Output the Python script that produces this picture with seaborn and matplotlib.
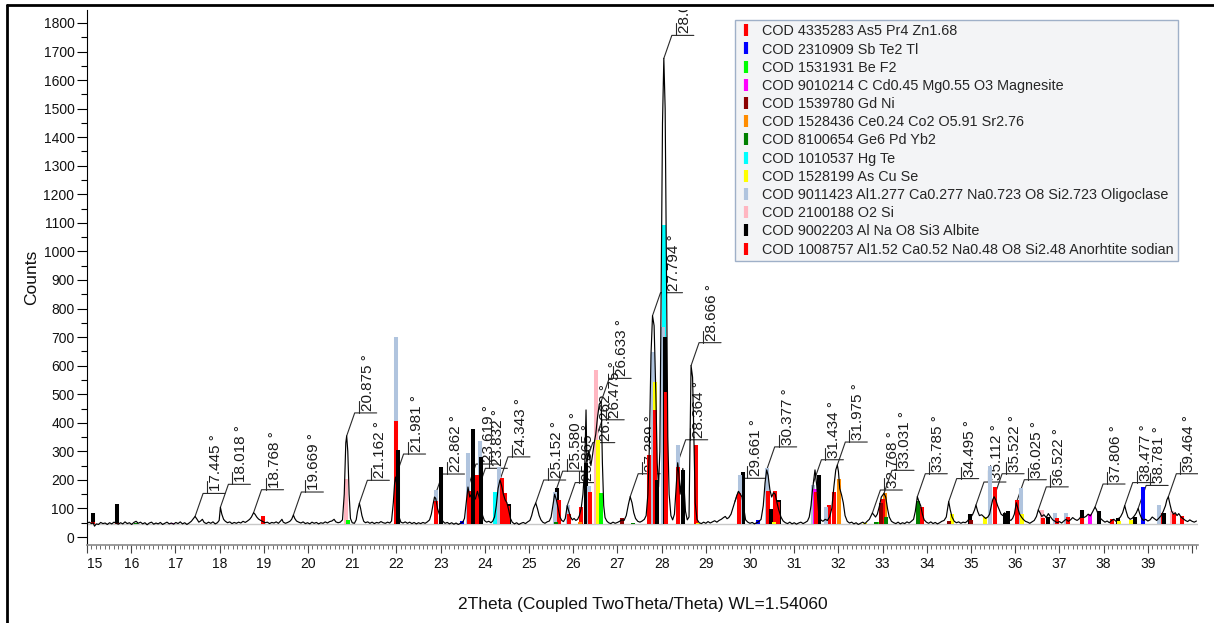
import numpy as np
import matplotlib
matplotlib.use("Agg")
import matplotlib.pyplot as plt
import seaborn as sns
from matplotlib.lines import Line2D
from matplotlib.ticker import MultipleLocator, FixedLocator

# ---- measured scan: 2theta (deg) and intensity (counts) ----
two_theta = [
    15.00, 15.05, 15.10, 15.14, 15.17, 15.21, 15.26, 15.31, 15.36, 15.41, 15.46, 15.51, 15.56, 15.61,
    15.66, 15.71, 15.76, 15.81, 15.86, 15.91, 15.96, 16.01, 16.06, 16.11, 16.16, 16.21, 16.26, 16.31,
    16.36, 16.41, 16.46, 16.51, 16.56, 16.61, 16.66, 16.71, 16.76, 16.81, 16.86, 16.91, 16.96, 17.01,
    17.06, 17.11, 17.16, 17.21, 17.26, 17.31, 17.36, 17.40, 17.445, 17.49, 17.53, 17.57, 17.61, 17.65,
    17.70, 17.75, 17.80, 17.85, 17.90, 17.95, 17.99, 18.018, 18.05, 18.09, 18.13, 18.18, 18.23, 18.28,
    18.33, 18.38, 18.43, 18.48, 18.53, 18.58, 18.63, 18.68, 18.72, 18.768, 18.80, 18.84, 18.88, 18.93,
    18.98, 19.03, 19.08, 19.13, 19.18, 19.23, 19.28, 19.33, 19.38, 19.41, 19.44, 19.49, 19.54, 19.59,
    19.63, 19.669, 19.70, 19.74, 19.79, 19.84, 19.89, 19.94, 19.99, 20.04, 20.09, 20.14, 20.19, 20.24,
    20.29, 20.34, 20.39, 20.44, 20.49, 20.54, 20.59, 20.63, 20.68, 20.73, 20.78, 20.82, 20.855, 20.875,
    20.90, 20.93, 20.96, 21.00, 21.05, 21.09, 21.12, 21.162, 21.19, 21.22, 21.26, 21.30, 21.35, 21.40,
    21.45, 21.50, 21.55, 21.60, 21.65, 21.70, 21.75, 21.80, 21.85, 21.89, 21.93, 21.96, 21.981, 22.00,
    22.03, 22.06, 22.10, 22.15, 22.20, 22.25, 22.30, 22.35, 22.40, 22.45, 22.50, 22.55, 22.60, 22.65,
    22.70, 22.75, 22.79, 22.83, 22.862, 22.89, 22.93, 22.97, 23.01, 23.05, 23.10, 23.15, 23.20, 23.25,
    23.30, 23.35, 23.40, 23.45, 23.50, 23.54, 23.58, 23.619, 23.66, 23.70, 23.74, 23.79, 23.832, 23.87,
    23.91, 23.95, 23.99, 24.04, 24.09, 24.14, 24.18, 24.22, 24.26, 24.30, 24.343, 24.38, 24.42, 24.46,
    24.50, 24.54, 24.58, 24.62, 24.67, 24.72, 24.77, 24.82, 24.87, 24.92, 24.97, 25.02, 25.06, 25.10,
    25.152, 25.19, 25.23, 25.27, 25.31, 25.36, 25.41, 25.46, 25.50, 25.54, 25.580, 25.62, 25.66, 25.70,
    25.74, 25.78, 25.82, 25.865, 25.90, 25.94, 25.98, 26.02, 26.06, 26.10, 26.14, 26.18, 26.22, 26.262,
    26.29, 26.31, 26.35, 26.40, 26.44, 26.475, 26.51, 26.55, 26.59, 26.633, 26.66, 26.69, 26.72, 26.76,
    26.80, 26.85, 26.90, 26.95, 27.00, 27.05, 27.10, 27.15, 27.20, 27.25, 27.289, 27.33, 27.37, 27.41,
    27.46, 27.51, 27.56, 27.61, 27.65, 27.69, 27.72, 27.76, 27.794, 27.83, 27.87, 27.90, 27.93, 27.96,
    27.99, 28.02, 28.05, 28.08, 28.11, 28.14, 28.17, 28.21, 28.25, 28.29, 28.33, 28.364, 28.39, 28.42,
    28.45, 28.48, 28.51, 28.54, 28.58, 28.62, 28.64, 28.666, 28.70, 28.73, 28.76, 28.80, 28.85, 28.90,
    28.95, 29.00, 29.05, 29.10, 29.15, 29.20, 29.25, 29.30, 29.35, 29.40, 29.44, 29.48, 29.52, 29.57,
    29.61, 29.661, 29.70, 29.74, 29.78, 29.82, 29.86, 29.90, 29.95, 30.00, 30.05, 30.10, 30.15, 30.20,
    30.25, 30.30, 30.34, 30.377, 30.41, 30.45, 30.49, 30.53, 30.57, 30.61, 30.65, 30.70, 30.75, 30.80,
    30.85, 30.90, 30.95, 31.00, 31.05, 31.10, 31.15, 31.20, 31.25, 31.30, 31.34, 31.38, 31.41, 31.434,
    31.47, 31.51, 31.55, 31.60, 31.65, 31.70, 31.75, 31.80, 31.85, 31.90, 31.94, 31.975, 32.00, 32.03,
    32.07, 32.11, 32.15, 32.20, 32.25, 32.30, 32.35, 32.40, 32.45, 32.50, 32.55, 32.60, 32.65, 32.70,
    32.74, 32.768, 32.80, 32.84, 32.88, 32.93, 32.97, 33.031, 33.07, 33.11, 33.15, 33.20, 33.25, 33.30,
    33.35, 33.40, 33.45, 33.50, 33.55, 33.60, 33.65, 33.70, 33.74, 33.785, 33.82, 33.86, 33.90, 33.94,
    33.99, 34.04, 34.09, 34.14, 34.19, 34.24, 34.29, 34.34, 34.39, 34.44, 34.47, 34.495, 34.53, 34.57,
    34.62, 34.67, 34.72, 34.77, 34.82, 34.87, 34.92, 34.96, 35.00, 35.04, 35.08, 35.112, 35.15, 35.19,
    35.24, 35.28, 35.33, 35.38, 35.42, 35.46, 35.49, 35.522, 35.56, 35.60, 35.64, 35.68, 35.72, 35.76,
    35.80, 35.85, 35.90, 35.94, 35.98, 36.025, 36.06, 36.10, 36.14, 36.18, 36.23, 36.28, 36.33, 36.38,
    36.43, 36.48, 36.522, 36.56, 36.60, 36.65, 36.70, 36.75, 36.80, 36.85, 36.90, 36.95, 37.00, 37.05,
    37.10, 37.15, 37.20, 37.25, 37.30, 37.35, 37.40, 37.45, 37.50, 37.55, 37.60, 37.65, 37.70, 37.75,
    37.806, 37.84, 37.88, 37.93, 37.98, 38.03, 38.08, 38.13, 38.18, 38.23, 38.28, 38.33, 38.38, 38.43,
    38.477, 38.51, 38.55, 38.60, 38.65, 38.70, 38.74, 38.781, 38.82, 38.86, 38.90, 38.95, 39.00, 39.05,
    39.10, 39.15, 39.20, 39.25, 39.30, 39.35, 39.40, 39.43, 39.464, 39.50, 39.54, 39.58, 39.62, 39.66,
    39.70, 39.75, 39.80, 39.85, 39.90, 39.95, 40.00, 40.05, 40.10,
]
counts = [
    48, 52, 47, 50, 38, 46, 44, 51, 47, 49, 44, 50, 46, 52,
    48, 45, 50, 46, 53, 47, 50, 44, 51, 55, 48, 52, 46, 50,
    43, 49, 52, 45, 49, 46, 51, 44, 48, 52, 46, 49, 45, 51,
    47, 53, 46, 50, 44, 49, 55, 63, 72, 62, 52, 56, 62, 51,
    47, 52, 48, 53, 46, 50, 58, 104, 80, 62, 55, 50, 53, 47,
    51, 48, 52, 49, 55, 51, 56, 62, 70, 85, 80, 70, 63, 58,
    54, 50, 52, 47, 51, 49, 53, 48, 56, 62, 52, 48, 51, 55,
    62, 77, 65, 56, 52, 49, 53, 47, 50, 46, 52, 48, 51, 46,
    50, 48, 53, 49, 54, 56, 62, 53, 50, 52, 60, 150, 330, 354,
    300, 150, 65, 50, 48, 60, 90, 118, 100, 75, 55, 50, 53, 48,
    52, 47, 51, 49, 54, 50, 48, 52, 49, 56, 120, 190, 210, 190,
    130, 70, 52, 49, 53, 48, 52, 47, 51, 46, 50, 47, 51, 48,
    53, 60, 80, 115, 140, 135, 100, 80, 70, 55, 48, 51, 46, 50,
    45, 49, 44, 48, 52, 65, 120, 175, 140, 150, 125, 135, 160, 140,
    110, 75, 58, 52, 55, 50, 56, 70, 110, 170, 200, 180, 150, 130,
    120, 95, 65, 52, 46, 50, 44, 48, 51, 47, 53, 58, 75, 100,
    119, 100, 75, 60, 52, 48, 53, 56, 70, 110, 150, 130, 100, 70,
    58, 54, 65, 110, 90, 70, 60, 65, 58, 62, 75, 100, 150, 250,
    445, 260, 300, 250, 290, 330, 360, 420, 465, 475, 260, 110, 68, 56,
    50, 47, 52, 48, 51, 55, 60, 58, 75, 115, 141, 120, 85, 65,
    55, 52, 56, 62, 75, 150, 300, 640, 775, 740, 500, 260, 175, 300,
    900, 1450, 1676, 1500, 900, 350, 150, 75, 60, 80, 180, 260, 220, 150,
    200, 240, 170, 90, 60, 70, 300, 600, 560, 350, 120, 62, 50, 47,
    52, 48, 54, 49, 53, 57, 52, 58, 62, 68, 72, 64, 68, 80,
    100, 125, 145, 160, 150, 140, 100, 60, 52, 48, 51, 46, 50, 54,
    62, 110, 190, 235, 215, 165, 140, 155, 150, 120, 95, 70, 56, 50,
    47, 52, 46, 50, 45, 49, 52, 47, 51, 56, 70, 110, 160, 190,
    235, 180, 90, 60, 55, 62, 58, 70, 100, 180, 235, 252, 230, 170,
    148, 120, 75, 55, 49, 52, 46, 50, 44, 48, 52, 47, 55, 62,
    75, 84, 78, 70, 80, 110, 140, 153, 140, 100, 70, 55, 50, 47,
    52, 46, 50, 47, 53, 49, 55, 62, 90, 141, 125, 110, 80, 60,
    52, 48, 53, 47, 51, 46, 50, 55, 58, 70, 100, 124, 95, 70,
    55, 50, 53, 48, 52, 50, 56, 65, 70, 80, 95, 112, 90, 75,
    78, 72, 65, 70, 80, 110, 130, 141, 130, 110, 95, 80, 75, 85,
    70, 62, 58, 65, 80, 120, 100, 80, 70, 62, 55, 52, 48, 53,
    58, 72, 95, 85, 72, 78, 68, 82, 70, 60, 55, 50, 54, 49,
    56, 62, 55, 60, 68, 62, 58, 64, 75, 68, 72, 80, 74, 88,
    105, 95, 78, 65, 58, 52, 56, 50, 58, 62, 55, 64, 70, 85,
    110, 90, 70, 62, 66, 75, 85, 100, 80, 65, 58, 62, 56, 60,
    70, 64, 58, 66, 75, 90, 110, 130, 141, 115, 90, 80, 85, 75,
    82, 70, 64, 58, 54, 60, 55, 52, 56,
]

# ---- peaks marked on the scan (2theta, deg) ----
peak_positions = [
    17.445, 18.018, 18.768, 19.669, 20.875, 21.162, 21.981, 22.862, 23.619, 23.832,
    24.343, 25.152, 25.580, 25.865, 26.262, 26.475, 26.633, 27.289, 27.794, 28.050,
    28.364, 28.666, 29.661, 30.377, 31.434, 31.975, 32.768, 33.031, 33.785, 34.495,
    35.112, 35.522, 36.025, 36.522, 37.806, 38.477, 38.781, 39.464,
]

# ---- reference patterns (COD entries) ----
phase_names = [
    "COD 4335283 As5 Pr4 Zn1.68",
    "COD 2310909 Sb Te2 Tl",
    "COD 1531931 Be F2",
    "COD 9010214 C Cd0.45 Mg0.55 O3 Magnesite",
    "COD 1539780 Gd Ni",
    "COD 1528436 Ce0.24 Co2 O5.91 Sr2.76",
    "COD 8100654 Ge6 Pd Yb2",
    "COD 1010537 Hg Te",
    "COD 1528199 As Cu Se",
    "COD 9011423 Al1.277 Ca0.277 Na0.723 O8 Si2.723 Oligoclase",
    "COD 2100188 O2 Si",
    "COD 9002203 Al Na O8 Si3 Albite",
    "COD 1008757 Al1.52 Ca0.52 Na0.48 O8 Si2.48 Anorhtite sodian",
]
phase_colors = [
    "#ff0000", "#0000ff", "#00ff00", "#ff00ff", "#8b0000", "#ff8c00", "#008000",
    "#00ffff", "#ffff00", "#b0c4de", "#ffb6c1", "#000000", "#ff0000",
]

# stick positions (2theta) and stick tops (counts) for each reference
as5pr4zn_pos = [15.13, 15.69, 18.98, 30.56, 31.79, 33.00, 35.54, 36.05, 36.63, 36.95, 37.20, 37.52, 38.20, 39.34, 39.60, 39.78]
as5pr4zn_top = [54, 50, 72, 160, 112, 134, 176, 130, 68, 66, 70, 66, 62, 84, 82, 72]
sbte2tl_pos = [23.49, 30.18, 38.88]
sbte2tl_top = [55, 58, 176]
bef2_pos = [20.90, 26.63, 32.88]
bef2_top = [58, 153, 54]
magnesite_pos = [16.92, 31.47, 37.69]
magnesite_top = [50, 168, 80]
gdni_pos = [27.10, 32.97, 34.50, 35.00]
gdni_top = [65, 120, 56, 60]
cecoosr_pos = [26.15, 32.01, 33.05]
cecoosr_top = [54, 202, 155]
ge6pdyb2_pos = [16.10, 25.60, 27.35, 32.85, 33.08, 33.81]
ge6pdyb2_top = [50, 52, 50, 54, 71, 127]
hgte_pos = [24.23, 28.06]
hgte_top = [156, 1092]
ascuse_pos = [26.57, 27.85, 28.83, 30.55, 32.60, 34.56, 35.32, 36.15, 38.35, 38.62]
ascuse_top = [340, 544, 48, 52, 50, 80, 71, 80, 56, 58]
oligoclase_pos = [21.98, 22.90, 23.63, 23.89, 24.33, 25.59, 25.89, 26.35, 27.80, 28.04, 28.36, 29.78, 30.39,
                  31.43, 31.72, 35.44, 36.12, 36.90, 37.15, 39.25]
oligoclase_top = [699, 164, 293, 337, 246, 159, 112, 180, 649, 736, 322, 217, 242, 182, 106, 250, 170, 84, 84, 112]
quartz_pos = [20.86, 26.52, 36.60, 39.55]
quartz_top = [203, 585, 95, 90]
albite_pos = [15.13, 15.69, 22.04, 23.00, 23.74, 23.91, 24.54, 25.64, 26.30, 27.89, 28.07, 28.48, 29.85, 30.48,
              30.65, 31.56, 34.97, 35.77, 35.84, 36.75, 37.50, 37.90, 38.33, 38.72, 39.37]
albite_top = [85, 115, 305, 246, 377, 281, 115, 170, 258, 200, 701, 235, 229, 97, 130, 217, 80, 84, 90, 70, 95, 90,
              66, 70, 84]
anorthite_pos = [21.99, 22.89, 23.64, 23.83, 24.40, 24.45, 24.52, 25.68, 25.90, 26.18, 26.38, 27.72, 27.84, 28.10,
                 28.38, 28.77, 29.74, 30.41, 30.63, 31.49, 31.91, 33.88]
anorthite_top = [407, 126, 162, 217, 205, 154, 110, 130, 79, 106, 159, 287, 445, 509, 246, 322, 153, 160, 124, 159,
                 159, 106]

phase_sticks = [
    (as5pr4zn_pos, as5pr4zn_top), (sbte2tl_pos, sbte2tl_top), (bef2_pos, bef2_top),
    (magnesite_pos, magnesite_top), (gdni_pos, gdni_top), (cecoosr_pos, cecoosr_top),
    (ge6pdyb2_pos, ge6pdyb2_top), (hgte_pos, hgte_top), (ascuse_pos, ascuse_top),
    (oligoclase_pos, oligoclase_top), (quartz_pos, quartz_top), (albite_pos, albite_top),
    (anorthite_pos, anorthite_top),
]
stick_base = 45  # background level the sticks stand on

x_tick_values = list(range(15, 40))

# ---- styling ----
sns.set_theme(style="white")
plt.rcParams["font.family"] = ["Liberation Sans", "DejaVu Sans"]
plt.rcParams["axes.linewidth"] = 0.8

W, H = 1214, 623
fig = plt.figure(figsize=(W / 100, H / 100), dpi=100, facecolor="white")
ax = fig.add_axes([87 / W, 1 - 545 / H, (1198 - 87) / W, (545 - 10) / H])
ax.set_facecolor("white")
ax.set_xlim(15.0, 40.135)
ax.set_ylim(-28, 1845.5)

# background reference line
ax.axhline(stick_base, color="#c8c8c8", lw=1.0, zorder=1)

# stick patterns: tallest first so shorter sticks stay visible on top
all_sticks = []
for (pos, top), col in zip(phase_sticks, phase_colors):
    for p, t in zip(pos, top):
        all_sticks.append((t, p, col))
all_sticks.sort(key=lambda s: -s[0])
for t, p, col in all_sticks:
    ax.vlines(p, stick_base, t, colors=col, lw=2.9, zorder=3)

# measured scan
sns.lineplot(x=two_theta, y=counts, ax=ax, color="black", lw=0.85, estimator=None,
             sort=False, zorder=4, legend=False)

# peak labels with bracket leaders
trans = ax.transData
inv = trans.inverted()
for pos in peak_positions:
    h = float(np.interp(pos, two_theta, counts))
    x0, y0 = trans.transform((pos, h))
    ex, ey = x0 + 8, y0 + 23
    pts = inv.transform([(x0, y0), (ex, ey), (ex + 22, ey)])
    ax.plot(pts[:, 0], pts[:, 1], color="#2a2a2a", lw=0.8, zorder=2, clip_on=True)
    tk = inv.transform([(ex + 4, ey), (ex + 4, ey + 12)])
    ax.plot(tk[:, 0], tk[:, 1], color="#2a2a2a", lw=0.8, zorder=2, clip_on=True)
    tx, ty = inv.transform((ex + 13, ey + 2))
    ax.text(tx, ty, f"{pos:.3f} °", rotation=90, ha="center", va="bottom", fontsize=11,
            color="#1a1a1a", zorder=2, clip_on=True)

# axes and ticks
for side in ("top", "right"):
    ax.spines[side].set_visible(False)
ax.spines["left"].set_color("black")
ax.spines["bottom"].set_color("#8a8a8a")
ax.spines["bottom"].set_linewidth(1.2)

ax.yaxis.set_major_locator(FixedLocator(list(range(0, 1801, 100))))
ax.yaxis.set_minor_locator(MultipleLocator(50))
ax.tick_params(axis="y", which="major", direction="out", length=7.5, width=0.8, color="black",
               pad=1.5, labelsize=10, labelcolor="#111111", left=True)
ax.tick_params(axis="y", which="minor", direction="out", length=4.5, width=0.8, color="black", left=True)

ax.xaxis.set_major_locator(FixedLocator(list(range(15, 41))))
ax.set_xticklabels([str(v) if v in x_tick_values else "" for v in range(15, 41)])
ax.xaxis.set_minor_locator(MultipleLocator(0.1))
ax.tick_params(axis="x", which="major", direction="out", length=5.5, width=0.8, color="#444444",
               pad=3, labelsize=10, labelcolor="#111111", bottom=True)
ax.tick_params(axis="x", which="minor", direction="out", length=3.0, width=0.6, color="#555555", bottom=True)
ax.get_xticklabels()[0].set_horizontalalignment("left")

ax.set_ylabel("Counts", fontsize=12.5, color="#111111")
ax.yaxis.set_label_coords(-0.0435, 0.5)
ax.set_xlabel("2Theta (Coupled TwoTheta/Theta) WL=1.54060", fontsize=12.5, color="#111111")
ax.xaxis.set_label_coords(0.5, -0.097)
ax.grid(False)

# legend of reference patterns
handles = [Line2D([], [], linestyle="none", marker="|", markersize=9, markeredgewidth=3.0, color=c)
           for c in phase_colors]
leg = ax.legend(handles, phase_names, loc="upper left", bbox_to_anchor=(0.5833, 0.9813),
                fontsize=10.4, frameon=True, fancybox=False, framealpha=1, borderpad=0.3,
                labelspacing=0.29, handlelength=0.9, handletextpad=0.7, borderaxespad=0)
leg.get_frame().set_facecolor("#f3f4f6")
leg.get_frame().set_edgecolor("#9fb0c8")
leg.get_frame().set_linewidth(1.0)
leg.set_zorder(10)

# page frame
fig.add_artist(Line2D([7 / W, 7 / W], [0, 1 - 5 / H], transform=fig.transFigure, color="black", lw=2))
fig.add_artist(Line2D([7 / W, 1], [1 - 5 / H, 1 - 5 / H], transform=fig.transFigure, color="black", lw=2))

fig.savefig("out.png", dpi=100, facecolor="white")
